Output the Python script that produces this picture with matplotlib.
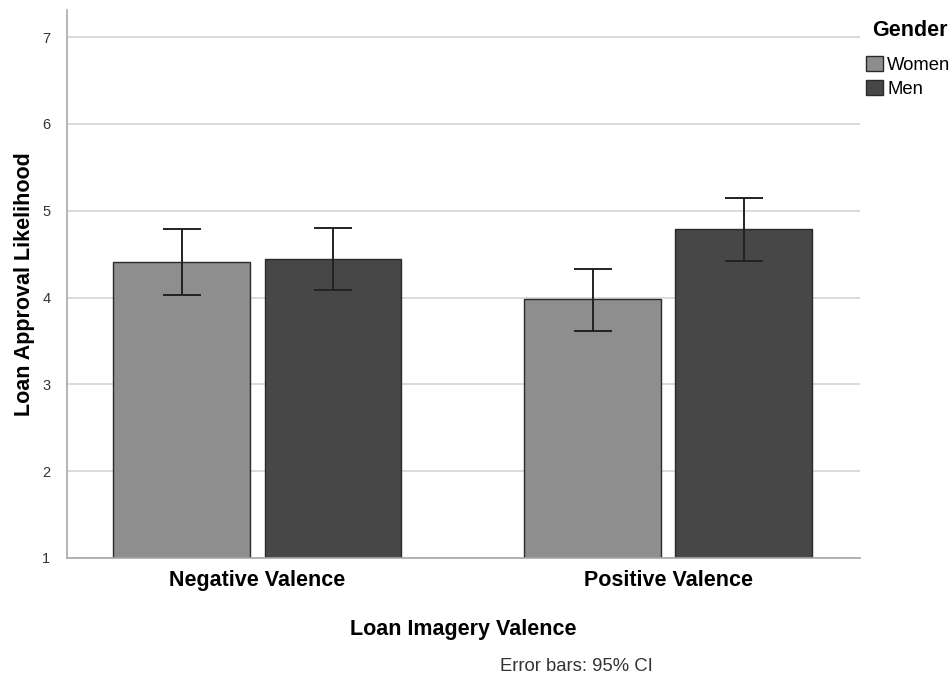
import matplotlib
matplotlib.use("Agg")
import matplotlib.pyplot as plt
from matplotlib.patches import Patch
import numpy as np

plt.rcParams['font.family'] = ['Liberation Sans', 'DejaVu Sans']

categories = ["Negative Valence", "Positive Valence"]
groups = ["Women", "Men"]
means = {"Women": [4.41, 3.98], "Men": [4.44, 4.79]}
ci_low = {"Women": [4.03, 3.62], "Men": [4.09, 4.42]}
ci_high = {"Women": [4.79, 4.33], "Men": [4.80, 5.15]}
colors = {"Women": "#8e8e8e", "Men": "#474747"}
yticks = [1, 2, 3, 4, 5, 6, 7]

fig = plt.figure(figsize=(9.5, 6.77), dpi=100)
ax = fig.add_axes([0.0705, 0.1758, 0.8345, 0.8092])

x = np.arange(len(categories))
width = 0.333
offsets = {"Women": -0.184, "Men": 0.184}
for g in groups:
    m = np.array(means[g])
    lo = m - np.array(ci_low[g])
    hi = np.array(ci_high[g]) - m
    ax.bar(x + offsets[g], m - 1, width, bottom=1, color=colors[g],
           edgecolor="#2a2a2a", linewidth=1.0, zorder=2)
    ax.errorbar(x + offsets[g], m, yerr=[lo, hi], fmt='none', ecolor="#222222",
                elinewidth=1.4, capsize=13.5, capthick=1.4, zorder=3)

ax.set_xlim(-0.4635, 1.466)
ax.set_ylim(1, 7.31)
ax.set_yticks(yticks)
ax.set_yticklabels([str(t) for t in yticks])
ax.yaxis.grid(True, color="#d4d4d4", linewidth=1.2, zorder=0)
ax.set_axisbelow(True)
ax.tick_params(axis='y', length=0, labelsize=10.5, labelcolor="#333333", pad=12)
ax.set_xticks(x)
ax.set_xticklabels(categories, fontsize=15.5, fontweight='bold')
ax.tick_params(axis='x', length=0, pad=9)
for s in ["top", "right"]:
    ax.spines[s].set_visible(False)
ax.spines["left"].set_color("#a8a8a8")
ax.spines["bottom"].set_color("#a8a8a8")
ax.spines["left"].set_linewidth(1.2)
ax.spines["bottom"].set_linewidth(1.2)

ax.set_ylabel("Loan Approval Likelihood", fontsize=15.5, fontweight='bold', labelpad=5)
ax.set_xlabel("Loan Imagery Valence", fontsize=15.5, fontweight='bold', labelpad=20)

fig.text(0.607, 0.003, "Error bars: 95% CI", fontsize=13.3, color="#333333",
         ha='center', va='bottom')

fig.text(872 / 950, 1 - 30 / 677, "Gender", fontsize=15.5, fontweight='bold',
         ha='left', va='center')
handles = [Patch(facecolor=colors[g], edgecolor="#2a2a2a", label=g) for g in groups]
leg = fig.legend(handles=handles, loc='upper left',
                 bbox_to_anchor=(866 / 950, 1 - 56 / 677), frameon=False, fontsize=13.3,
                 handlelength=0.9, handleheight=0.9, handletextpad=0.25,
                 labelspacing=0.32, borderaxespad=0, borderpad=0.0)

fig.savefig("out.png", dpi=100)
